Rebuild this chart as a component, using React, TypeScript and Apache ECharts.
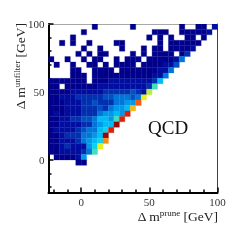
import React, { useEffect, useRef } from "react";
import * as echarts from "echarts";

const BIN = 4;
const AXIS_MIN = -24;
const AXIS_MAX = 100;
const MAJOR_TICKS = [0, 50, 100];
const MINOR_TICKS = [-20, -10, 10, 20, 30, 40, 60, 70, 80, 90];

const sparseTop: [number, number[]][] = [
  [30, [8, 15, 24, 27, 28, 30]],
  [29, [6, 19, 20, 21, 24, 25, 26, 27, 28, 29]],
  [28, [4, 18, 20, 22, 25, 26, 28]],
  [27, [2, 4, 7, 12, 13, 20, 22, 23, 24, 25, 26, 27]],
  [26, [6, 9, 13, 17, 19, 20, 22, 23, 24, 25, 26]],
  [25, [5, 7, 9, 10, 15, 17, 19, 20, 21, 22, 24, 25]],
  [24, [0, 3, 6, 8, 9, 12, 14, 15, 16, 18, 19, 20, 21, 22, 23, 24]],
  [23, [1, 4, 7, 8, 10, 12, 13, 14, 15, 17, 18, 19, 20, 21, 22, 23]],
  [22, [4, 5, 8, 9, 10, 11, 13, 14, 15, 16, 17, 18, 19, 20, 21, 22]],
  [21, [4, 5, 6, 8, 9, 10, 11, 12, 13, 14, 15, 16, 17, 18, 19, 20, 21]],
];
const topOverrides: [number, number, number][] = [
  [30, 30, 2], [29, 29, 2], [28, 28, 1], [27, 27, 1], [26, 26, 2], [25, 25, 3],
  [24, 24, 5], [23, 23, 4], [22, 22, 5], [21, 21, 5],
  [24, 23, 2], [23, 22, 2], [22, 21, 2], [23, 21, 2], [22, 20, 2], [21, 20, 2], [21, 19, 2],
];
const denseRows: [number, number[]][] = [
  [20, [1, 1, 1, 1, 1, 1, 1, 0, 1, 1, 1, 2, 2, 2, 2, 2, 2, 2, 2, 3, 7]],
  [19, [1, 1, 0, 1, 1, 1, 1, 1, 1, 2, 2, 2, 2, 2, 2, 2, 2, 2, 3, 9]],
  [18, [1, 1, 1, 1, 2, 2, 2, 2, 2, 2, 3, 3, 3, 3, 3, 4, 3, 2, 10]],
  [17, [1, 1, 2, 2, 2, 3, 3, 3, 3, 3, 4, 4, 5, 5, 5, 4, 5, 11]],
  [16, [1, 1, 1, 2, 2, 2, 3, 3, 4, 3, 3, 3, 5, 5, 6, 6, 13]],
  [15, [1, 1, 1, 2, 2, 2, 3, 3, 3, 4, 3, 5, 6, 6, 7, 12]],
  [14, [1, 2, 1, 2, 2, 2, 3, 3, 3, 5, 6, 6, 7, 6, 14]],
  [13, [1, 1, 2, 2, 3, 3, 4, 4, 5, 7, 7, 6, 9, 14]],
  [12, [1, 1, 2, 2, 2, 2, 3, 3, 5, 6, 7, 7, 15]],
  [11, [1, 2, 2, 2, 2, 3, 4, 5, 5, 7, 8, 14]],
  [10, [1, 1, 2, 3, 3, 3, 5, 5, 6, 7, 15]],
  [9, [1, 1, 2, 2, 2, 3, 5, 6, 7, 8, 16]],
  [8, [1, 1, 2, 3, 2, 2, 2, 6, 8, 11]],
  [7, [1, 1, 2, 2, 2, 2, 3, 5, 9]],
  [6, [0, 1, 1, 1, 1, 2, 6]],
  [5, [0, 0, 0, 0, 0, 1, 1]],
];
const PALETTE = [
  "#ffffff", "#00008c", "#000ea0", "#0030b0", "#0050c4", "#0076d8", "#0098e8",
  "#00bcf4", "#10d0f0", "#40e0b8", "#b8f040", "#e8f020", "#f8b818", "#fa5a10",
  "#dc2008", "#9a0808", "#f88c10",
];
const xLabelParts = { delta: "Δ m", sup: "prune", unit: " [GeV]" };
const yLabelParts = { delta: "Δ m", sup: "unfilter", unit: " [GeV]" };
const ANNOTATION = "QCD";

function buildCells(): number[][] {
  const m = new Map<string, number>();
  sparseTop.forEach(([j, cols]) => cols.forEach((i) => m.set(i + ":" + j, 1)));
  topOverrides.forEach(([j, i, l]) => m.set(i + ":" + j, l));
  denseRows.forEach(([j, ls]) => ls.forEach((l, i) => { if (l > 0) m.set(i + ":" + j, l); }));
  const out: number[][] = [];
  m.forEach((l, k) => {
    const [i, j] = k.split(":").map(Number);
    out.push([AXIS_MIN + i * BIN, AXIS_MIN + j * BIN, l]);
  });
  return out;
}

const FONT = "Liberation Serif";
const rich = {
  a: { fontFamily: FONT, fontSize: 13.5, fill: "#222", color: "#222" },
  s: { fontFamily: FONT, fontSize: 9, fill: "#222", color: "#222", padding: [0, 0, 7, 0] },
};

export default function App() {
  const ref = useRef<HTMLDivElement>(null);
  useEffect(() => {
    document.body.style.margin = "0";
    document.body.style.overflow = "hidden";
    const chart = echarts.init(ref.current!, undefined, { renderer: "svg" });
    const axisBase = { type: "value", min: AXIS_MIN, max: AXIS_MAX, splitLine: { show: false } };
    const major = {
      ...axisBase,
      axisLine: { show: true, onZero: false, lineStyle: { color: "#000", width: 2 } },
      axisTick: { show: true, inside: true, length: 5, customValues: MAJOR_TICKS, lineStyle: { color: "#000", width: 1.5 } },
      axisLabel: { show: true, customValues: MAJOR_TICKS, fontFamily: FONT, fontSize: 11, color: "#333", margin: 4, showMinLabel: true, showMaxLabel: true },
    };
    const minor = {
      ...axisBase,
      axisLine: { show: false, onZero: false },
      axisTick: { show: true, inside: true, length: 3, customValues: MINOR_TICKS, lineStyle: { color: "#000", width: 1.5 } },
      axisLabel: { show: false },
    };
    const border = (color: string) => ({
      ...axisBase,
      axisLine: { show: true, onZero: false, lineStyle: { color, width: 1 } },
      axisTick: { show: false },
      axisLabel: { show: false },
    });
    chart.setOption({
      animation: false,
      grid: { left: 48.5, right: 24.5, top: 24, bottom: 49.5 },
      xAxis: [
        { ...major, position: "bottom" },
        { ...minor, position: "bottom" },
        { ...border("#a8a8a8"), position: "top" },
      ],
      yAxis: [
        { ...major, position: "left" },
        { ...minor, position: "left" },
        { ...border("#7a2c2c"), position: "right" },
      ],
      graphic: [
        { type: "text", x: 148, y: 118, style: { text: ANNOTATION, fontFamily: FONT, fontSize: 19, fill: "#111" } },
        {
          type: "text", x: 218, y: 208,
          style: {
            text: `{a|${xLabelParts.delta}}{s|${xLabelParts.sup}}{a|${xLabelParts.unit}}`,
            rich, align: "right", verticalAlign: "top",
          },
        },
        {
          type: "text", x: 12, y: 23, rotation: Math.PI / 2,
          style: {
            text: `{a|${yLabelParts.delta}}{s|${yLabelParts.sup}}{a|${yLabelParts.unit}}`,
            rich, align: "right", verticalAlign: "top",
          },
        },
      ],
      series: [
        {
          type: "custom",
          coordinateSystem: "cartesian2d",
          clip: true,
          encode: { x: 0, y: 1 },
          data: buildCells(),
          renderItem: (_p: any, api: any) => {
            const x = api.value(0), y = api.value(1);
            const a = api.coord([x, y + BIN]);
            const b = api.coord([x + BIN, y]);
            return {
              type: "rect",
              shape: { x: a[0], y: a[1], width: b[0] - a[0], height: b[1] - a[1] },
              style: { fill: PALETTE[api.value(2)], stroke: PALETTE[api.value(2)], lineWidth: 0.3 },
            };
          },
        },
      ],
    });
    return () => chart.dispose();
  }, []);
  return <div ref={ref} style={{ width: 242, height: 242, filter: "blur(0.4px)" }} />;
}
